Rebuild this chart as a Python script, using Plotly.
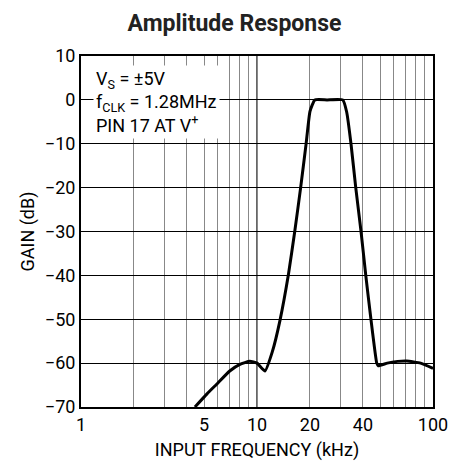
import plotly.graph_objects as go

# Data
freq_khz = [4.44, 5.2, 5.9, 7.0, 8.0, 9.1, 10.0, 11.1, 12.2, 13.5, 15.1, 16.4, 17.7, 19.0, 20.0,
            21.3, 25.0, 30.7, 32.3, 34.2, 36.4, 39.0, 41.5, 44.4, 47.9, 48.9, 55.0, 63.0, 71.0, 85.0, 100.0]
gain_db = [-70.0, -67.0, -64.8, -61.8, -60.3, -59.6, -60.0, -61.8, -57.5, -50.3, -39.7, -29.9, -20.0, -10.1, -2.6,
           0.0, 0.0, 0.0, -2.7, -10.0, -20.0, -30.0, -40.0, -50.0, -60.0, -60.6, -60.0, -59.6, -59.5, -60.0, -61.2]

x_tick_vals = [1, 2, 3, 4, 5, 6, 7, 8, 9, 10, 20, 30, 40, 50, 60, 70, 80, 90, 100]
x_tick_text = ["1", "", "", "", "5", "", "", "", "", "10", "20", "", "40", "", "", "", "", "", "100"]
y_tick_vals = [10, 0, -10, -20, -30, -40, -50, -60, -70]
y_tick_text = ["10", "0", "\u221210", "\u221220", "\u221230", "\u221240", "\u221250", "\u221260", "\u221270"]

FONT = "Roboto, Liberation Sans, Arial, sans-serif"

fig = go.Figure()
fig.add_trace(go.Scatter(
    x=freq_khz, y=gain_db, mode="lines",
    line=dict(color="black", width=3, shape="spline", smoothing=0.4),
    hoverinfo="skip", showlegend=False,
))

fig.add_shape(type="line", xref="x", yref="paper", x0=10, x1=10, y0=0, y1=1,
              line=dict(color="black", width=1.2), layer="below")

fig.add_annotation(
    xref="paper", yref="paper", x=0.035, y=0.975, xanchor="left", yanchor="top",
    align="left", showarrow=False, bgcolor="white", borderpad=2,
    text="V<sub>S</sub> = \u00b15V<br>f<sub>CLK</sub> = 1.28MHz<br>PIN 17 AT V<sup>+</sup>",
    font=dict(family=FONT, size=18, color="black"),
)

fig.update_layout(
    width=453, height=460,
    margin=dict(l=73, r=28, t=48, b=61),
    paper_bgcolor="white", plot_bgcolor="white",
    title=dict(text="<b>Amplitude Response</b>", x=0.5, xanchor="center", y=0.985, yanchor="top",
               font=dict(family=FONT, size=23, color="#222")),
    font=dict(family=FONT, color="black"),
)
fig.update_xaxes(
    type="log", range=[0, 2], tickmode="array", tickvals=x_tick_vals, ticktext=x_tick_text,
    showgrid=True, gridcolor="#888", gridwidth=1.2, ticks="", showline=True, linecolor="black",
    linewidth=2, mirror=True, zeroline=False, tickfont=dict(size=18, family=FONT),
    title=dict(text="INPUT FREQUENCY (kHz)", font=dict(size=18, family=FONT), standoff=10),
)
fig.update_yaxes(
    range=[-70, 10], tickmode="array", tickvals=y_tick_vals, ticktext=y_tick_text,
    showgrid=True, gridcolor="black", gridwidth=1, ticks="", showline=True, linecolor="black",
    linewidth=2, mirror=True, zeroline=False, tickfont=dict(size=18, family=FONT),
    title=dict(text="GAIN (dB)", font=dict(size=18, family=FONT), standoff=6),
)

fig.write_html("out.html")
